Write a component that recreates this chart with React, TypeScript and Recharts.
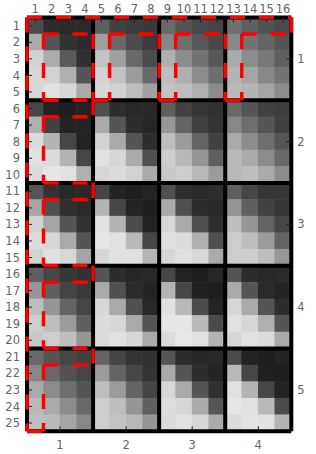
import React from 'react';
import { ComposedChart, Scatter, XAxis, YAxis, ReferenceLine } from 'recharts';

const topTicks = [1, 2, 3, 4, 5, 6, 7, 8, 9, 10, 11, 12, 13, 14, 15, 16];
const leftTicks = Array.from({ length: 25 }, (_, i) => i + 1);
const bottomTicks = [2.5, 6.5, 10.5, 14.5];
const bottomLabels = ['1', '2', '3', '4'];
const rightTicks = [3, 8, 13, 18, 23];
const rightLabels = ['1', '2', '3', '4', '5'];

const rows: number[][] = [
  [75, 45, 42, 42, 95, 65, 60, 57, 105, 85, 72, 68, 112, 95, 82, 75],
  [170, 85, 50, 45, 160, 105, 75, 60, 135, 110, 88, 72, 135, 115, 100, 85],
  [210, 172, 90, 48, 195, 160, 105, 75, 175, 140, 115, 88, 170, 140, 120, 95],
  [215, 210, 175, 85, 210, 195, 155, 105, 190, 175, 140, 110, 180, 165, 135, 115],
  [215, 225, 215, 170, 215, 210, 190, 160, 195, 190, 175, 140, 185, 180, 165, 140],
  [70, 35, 30, 35, 80, 45, 40, 40, 95, 65, 55, 50, 105, 85, 65, 62],
  [175, 65, 35, 35, 170, 85, 45, 38, 150, 100, 65, 52, 135, 110, 85, 65],
  [220, 180, 70, 35, 210, 170, 85, 45, 190, 155, 100, 65, 170, 140, 110, 85],
  [225, 220, 180, 70, 225, 215, 170, 80, 205, 185, 150, 95, 185, 170, 140, 105],
  [220, 230, 225, 175, 215, 220, 210, 170, 200, 205, 185, 155, 185, 190, 170, 140],
  [85, 50, 40, 40, 70, 35, 30, 35, 80, 45, 40, 45, 95, 70, 55, 55],
  [165, 80, 48, 42, 180, 70, 35, 30, 170, 80, 45, 40, 150, 95, 65, 55],
  [210, 165, 85, 50, 225, 180, 75, 35, 215, 170, 80, 45, 190, 150, 100, 70],
  [220, 215, 170, 85, 230, 225, 185, 70, 225, 220, 175, 80, 205, 190, 155, 100],
  [210, 225, 215, 165, 215, 225, 225, 180, 215, 225, 215, 170, 205, 205, 190, 150],
  [95, 70, 55, 50, 85, 45, 38, 40, 70, 35, 30, 38, 85, 45, 40, 42],
  [150, 95, 68, 58, 170, 80, 42, 35, 180, 70, 33, 30, 170, 85, 42, 35],
  [190, 150, 100, 70, 215, 170, 80, 40, 225, 185, 75, 35, 215, 170, 85, 45],
  [205, 190, 155, 95, 220, 215, 170, 85, 230, 230, 185, 75, 225, 215, 175, 85],
  [200, 205, 190, 150, 220, 225, 215, 170, 220, 232, 225, 180, 215, 225, 220, 170],
  [105, 85, 70, 65, 100, 68, 52, 50, 85, 45, 38, 40, 75, 35, 30, 35],
  [135, 105, 82, 70, 155, 100, 70, 52, 170, 85, 45, 35, 185, 70, 32, 30],
  [170, 140, 110, 85, 190, 155, 100, 68, 215, 170, 85, 48, 225, 180, 70, 35],
  [185, 170, 140, 105, 205, 190, 150, 95, 222, 215, 170, 85, 230, 225, 185, 75],
  [190, 185, 165, 135, 205, 195, 185, 150, 220, 225, 215, 170, 220, 228, 225, 180],
];

const cells = rows.flatMap((r, i) => r.map((v, j) => ({ col: j + 1, row: i + 1, v })));

const gridX = [0.5, 4.5, 8.5, 12.5, 16.5];
const gridY = [0.5, 5.5, 10.5, 15.5, 20.5, 25.5];

type P = [number, number];
const redSegs: [P, P][] = [
  [[0.5, 0.5], [16.5, 0.5]],
  [[0.5, 0.5], [0.5, 25.5]],
  [[16.5, 0.5], [16.5, 1.5]],
  [[0.5, 25.5], [1.5, 25.5]],
];
[0.5, 5.5, 10.5, 15.5, 20.5].forEach((y0) => {
  redSegs.push([[1.5, y0 + 1], [4.5, y0 + 1]]);
  redSegs.push([[1.5, y0 + 1], [1.5, y0 + 5]]);
  if (y0 < 20) redSegs.push([[1.5, y0 + 5], [4.5, y0 + 5]]);
  if (y0 > 1) redSegs.push([[4.5, y0], [4.5, y0 + 1]]);
});
[4.5, 8.5, 12.5].forEach((x0) => {
  redSegs.push([[x0 + 1, 1.5], [x0 + 4, 1.5]]);
  redSegs.push([[x0 + 1, 1.5], [x0 + 1, 5.5]]);
  redSegs.push([[x0, 1.5], [x0, 5.5]]);
  redSegs.push([[x0, 5.5], [x0 + 1, 5.5]]);
});

const Cell = (p: any) => {
  const c = p.payload.v;
  const w = 17.1;
  const h = 17.1;
  return <rect x={p.cx - w / 2} y={p.cy - h / 2} width={w} height={h} fill={`rgb(${c},${c},${c})`} />;
};
const NoShape = () => null;

const tickStyle = { fontFamily: 'DejaVu Sans', fontSize: 11.5, fill: '#666666' };
const LZ = 800;

export default function App() {
  return (
    <div style={{ position: 'absolute', left: 0, top: 0 }}>
      <ComposedChart width={316} height={454} data={cells} margin={{ top: 0, right: 0, bottom: 0, left: 0 }}>
        <XAxis xAxisId="t" orientation="top" type="number" dataKey="col" domain={[0.5, 16.5]} ticks={topTicks} interval={0}
          height={17.5} axisLine={false} tickLine={false} tickSize={0} tickMargin={5} tick={tickStyle} allowDataOverflow />
        <XAxis xAxisId="b" orientation="bottom" type="number" dataKey="col" domain={[0.5, 16.5]} ticks={bottomTicks} interval={0}
          height={22.7} axisLine={false} tickLine={false} tickSize={0} tickMargin={9.5} tick={tickStyle}
          tickFormatter={(v: number) => bottomLabels[bottomTicks.indexOf(v)]} allowDataOverflow />
        <YAxis yAxisId="l" type="number" dataKey="row" domain={[0.5, 25.5]} reversed ticks={leftTicks} interval={0}
          width={27} axisLine={false} tickLine={false} tickSize={0} tickMargin={7} tick={tickStyle} allowDataOverflow />
        <YAxis yAxisId="r" orientation="right" type="number" dataKey="row" domain={[0.5, 25.5]} reversed ticks={rightTicks} interval={0}
          width={24.7} axisLine={false} tickLine={false} tickSize={0} tickMargin={6} tick={tickStyle}
          tickFormatter={(v: number) => rightLabels[rightTicks.indexOf(v)]} allowDataOverflow />
        <Scatter xAxisId="t" yAxisId="l" data={cells} dataKey="v" shape={Cell} isAnimationActive={false} zIndex={100} />
        <Scatter xAxisId="b" yAxisId="r" data={cells} dataKey="v" shape={NoShape} isAnimationActive={false} zIndex={100} />
        {gridX.map((x) => (
          <ReferenceLine key={`gx${x}`} xAxisId="t" yAxisId="l" ifOverflow="visible" zIndex={LZ} segment={[{ x, y: 0.5 }, { x, y: 25.5 }]} stroke="#000" strokeWidth={4} />
        ))}
        {gridY.map((y) => (
          <ReferenceLine key={`gy${y}`} xAxisId="t" yAxisId="l" ifOverflow="visible" zIndex={LZ} segment={[{ x: 0.5, y }, { x: 16.5, y }]} stroke="#000" strokeWidth={4} />
        ))}
        {topTicks.map((x) => (
          <ReferenceLine key={`tt${x}`} xAxisId="t" yAxisId="l" ifOverflow="visible" zIndex={LZ} segment={[{ x, y: 0.5 }, { x, y: 0.8 }]} stroke="#222" strokeWidth={1} />
        ))}
        {leftTicks.map((y) => (
          <ReferenceLine key={`tl${y}`} xAxisId="t" yAxisId="l" ifOverflow="visible" zIndex={LZ} segment={[{ x: 0.5, y }, { x: 0.8, y }]} stroke="#222" strokeWidth={1} />
        ))}
        {bottomTicks.map((x) => (
          <ReferenceLine key={`tb${x}`} xAxisId="t" yAxisId="l" ifOverflow="visible" zIndex={LZ} segment={[{ x, y: 25.2 }, { x, y: 25.5 }]} stroke="#222" strokeWidth={1} />
        ))}
        {rightTicks.map((y) => (
          <ReferenceLine key={`tr${y}`} xAxisId="t" yAxisId="l" ifOverflow="visible" zIndex={LZ} segment={[{ x: 16.2, y }, { x: 16.5, y }]} stroke="#222" strokeWidth={1} />
        ))}
        {redSegs.map(([a, b], i) => (
          <ReferenceLine key={`r${i}`} xAxisId="t" yAxisId="l" ifOverflow="visible" zIndex={LZ + 10}
            segment={[{ x: a[0], y: a[1] }, { x: b[0], y: b[1] }]} stroke="#ff0000" strokeWidth={3.5} strokeDasharray="15 14" />
        ))}
      </ComposedChart>
    </div>
  );
}
